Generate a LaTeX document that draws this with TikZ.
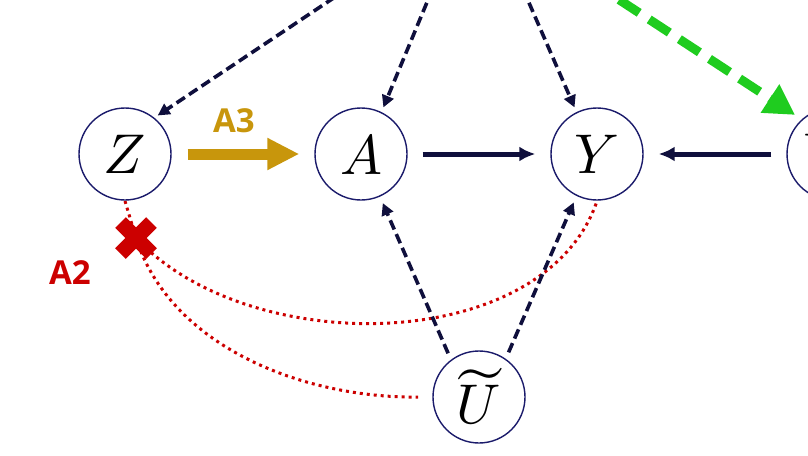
\documentclass[tikz,border=0pt]{standalone}
\usepackage{amsmath}
\usepackage{fontspec}
\usepackage{unicode-math}
\setmathfont{Latin Modern Math}
\newfontfamily\lblfont{Open Sans}
\usetikzlibrary{arrows.meta}
\definecolor{cnode}{HTML}{1B1B6B}
\definecolor{cdark}{HTML}{0F0F3C}
\definecolor{cgold}{HTML}{C8960C}
\definecolor{cgreen}{HTML}{1FCC1F}
\definecolor{cred}{HTML}{CC0000}
\tikzset{
  var/.style={circle, draw=cnode, line width=1.4pt, minimum size=92pt, inner sep=0pt, fill=white,
              font=\fontsize{56}{60}\selectfont},
  dasharr/.style={draw=cdark, line width=3.6pt, dash pattern=on 10pt off 5pt,
                  -{Triangle[length=12pt,width=12pt]}},
  solidarr/.style={draw=cdark, line width=5pt, -{Latex[length=16pt,width=15pt]},
                   shorten <=15pt, shorten >=15pt},
  goldarr/.style={draw=cgold, line width=11pt, -{Triangle[length=32pt,width=30pt]},
                  shorten <=16pt, shorten >=15pt},
  greenarr/.style={draw=cgreen, line width=9pt, dash pattern=on 24pt off 12pt,
                   -{Triangle[length=30pt,width=32pt]}},
  reddot/.style={draw=cred, line width=3pt, dash pattern=on 3pt off 4pt},
  crossline/.style={draw=cred, line width=15pt},
  lbl/.style={font=\lblfont\bfseries\fontsize{33}{33}\selectfont, inner sep=0pt}
}
\begin{document}
\begin{tikzpicture}[x=1pt,y=-1pt]
\clip (0,0) rectangle (808,455);
\useasboundingbox (0,0) rectangle (808,455);

% off-canvas sources
\coordinate (sZ) at (347,-11);
\coordinate (sA) at (432.5,-11);
\coordinate (sY) at (523,-11);
\coordinate (sG) at (589,-20);
\coordinate (X) at (136,238);

% red dotted paths (under nodes and cross)
\draw[reddot] (125,201) -- (X);
\draw[reddot] (X) .. controls (250,360) and (545,355) .. (597,201);
\draw[reddot, shorten >=15pt] (X) .. controls (170,345) and (300,398) .. (433,397);

% nodes
\node[var] (Z) at (125,154) {$Z$};
\node[var] (A) at (361,154) {$A$};
\node[var] (Y) at (597,154) {$Y$};
\node[var] (W) at (833,154) {$W$};
\node[var] (U) at (479,397) {$\widetilde{U}$};

% cross
\draw[crossline] ([shift={(-15.5,-15.5)}]X) -- ([shift={(15.5,15.5)}]X);
\draw[crossline] ([shift={(15.5,-15.5)}]X) -- ([shift={(-15.5,15.5)}]X);

% labels
\node[lbl, text=cred] (l2) at (70,273) {A2};
\node[lbl, text=cgold] (l3) at (234,121) {A3};

% top dashed arrows
\draw[dasharr, shorten >=4pt] (sZ) -- (Z.51);
\draw[dasharr, shorten >=5pt] (sA) -- (A.64);
\draw[dasharr, shorten >=5pt] (sY) -- (Y.116);
\draw[greenarr, shorten >=8pt] (sG) -- (W.132);

% from U
\draw[dasharr, shorten <=7pt, shorten >=7pt] (U.127) -- (A.-66);
\draw[dasharr, shorten <=7pt, shorten >=7pt] (U.55) -- (Y.-116);

% solid arrows
\draw[goldarr] (Z) -- (A);
\draw[solidarr] (A) -- (Y);
\draw[solidarr] (W) -- (Y);
\end{tikzpicture}
\end{document}
